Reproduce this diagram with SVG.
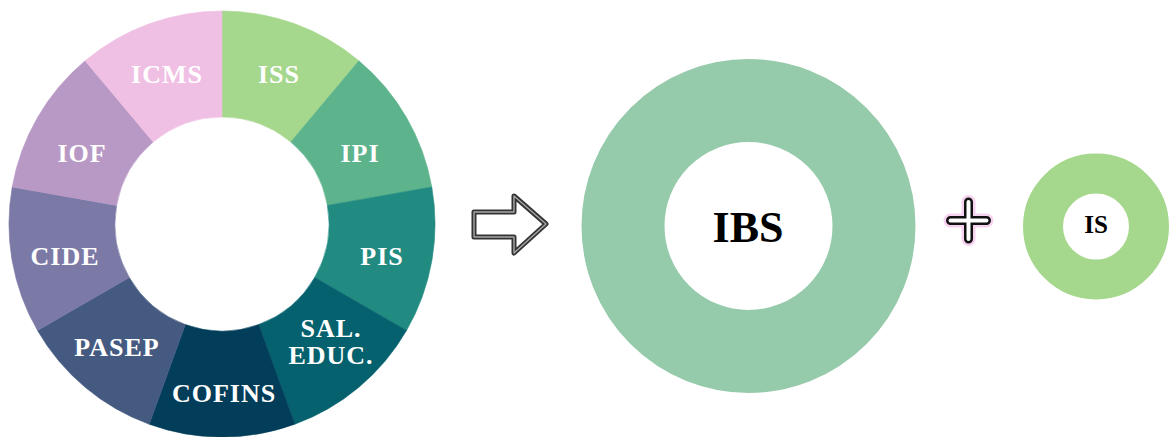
<svg xmlns="http://www.w3.org/2000/svg" width="1172" height="437" viewBox="0 0 1172 437">
<style>
.lbl{font-family:"Liberation Serif","Times New Roman",serif;font-weight:bold;font-size:26px;fill:#ffffff;text-anchor:middle;letter-spacing:1px}
.dark{font-family:"Liberation Serif","Times New Roman",serif;font-weight:bold;fill:#000000;text-anchor:middle}
.seg{stroke-width:0.6}
.pl{fill:none;stroke-linecap:round}
</style>
<rect width="1172" height="437" fill="#ffffff"/>
<g id="donut-tributos">
<g id="seg-iss"><path class="seg" fill="#a5d78c" stroke="#a5d78c" d="M222,11 A213,213 0 0 1 358.9,60.8 L290.8,142 A107,107 0 0 0 222,117 Z"/><text class="lbl" x="279" y="83">ISS</text></g>
<g id="seg-ipi"><path class="seg" fill="#5db38b" stroke="#5db38b" d="M358.9,60.8 A213,213 0 0 1 431.8,187 L327.4,205.4 A107,107 0 0 0 290.8,142 Z"/><text class="lbl" x="360" y="162">IPI</text></g>
<g id="seg-pis"><path class="seg" fill="#228b81" stroke="#228b81" d="M431.8,187 A213,213 0 0 1 406.5,330.5 L314.7,277.5 A107,107 0 0 0 327.4,205.4 Z"/><text class="lbl" x="382" y="265">PIS</text></g>
<g id="seg-sal"><path class="seg" fill="#05616e" stroke="#05616e" d="M406.5,330.5 A213,213 0 0 1 294.8,424.2 L258.6,324.6 A107,107 0 0 0 314.7,277.5 Z"/><text class="lbl" x="331" y="337">SAL.</text><text class="lbl" x="331" y="364">EDUC.</text></g>
<g id="seg-cofins"><path class="seg" fill="#023d59" stroke="#023d59" d="M294.8,424.2 A213,213 0 0 1 149.2,424.2 L185.4,324.6 A107,107 0 0 0 258.6,324.6 Z"/><text class="lbl" x="224" y="402">COFINS</text></g>
<g id="seg-pasep"><path class="seg" fill="#445a80" stroke="#445a80" d="M149.2,424.2 A213,213 0 0 1 37.5,330.5 L129.3,277.5 A107,107 0 0 0 185.4,324.6 Z"/><text class="lbl" x="117" y="356">PASEP</text></g>
<g id="seg-cide"><path class="seg" fill="#7b79a6" stroke="#7b79a6" d="M37.5,330.5 A213,213 0 0 1 12.2,187 L116.6,205.4 A107,107 0 0 0 129.3,277.5 Z"/><text class="lbl" x="65" y="265">CIDE</text></g>
<g id="seg-iof"><path class="seg" fill="#b899c6" stroke="#b899c6" d="M12.2,187 A213,213 0 0 1 85.1,60.8 L153.2,142 A107,107 0 0 0 116.6,205.4 Z"/><text class="lbl" x="82" y="162">IOF</text></g>
<g id="seg-icms"><path class="seg" fill="#f0c0e4" stroke="#f0c0e4" d="M85.1,60.8 A213,213 0 0 1 222,11 L222,117 A107,107 0 0 0 153.2,142 Z"/><text class="lbl" x="167" y="83">ICMS</text></g>
</g>
<g id="connectors">
<g id="arrow">
<path d="M474,212 L514,212 L514,196 L546,224 L514,253 L514,237 L474,237 Z" fill="#ffffff" stroke="#333333" stroke-width="5" stroke-linejoin="round"/>
<path d="M474,212 L514,212 L514,196 L546,224 L514,253 L514,237 L474,237 Z" fill="none" stroke="#a8a8a8" stroke-width="1.4" stroke-linejoin="round"/>
</g>
<g id="plus">
<path class="pl" d="M968.5,202 L968.5,239 M950.5,220.5 L986.5,220.5" stroke="#f6d2f0" stroke-width="14"/>
<path class="pl" d="M968.5,202 L968.5,239 M950.5,220.5 L986.5,220.5" stroke="#111111" stroke-width="9"/>
<path class="pl" d="M968.5,202 L968.5,239 M950.5,220.5 L986.5,220.5" stroke="#ffffff" stroke-width="4"/>
</g>
</g>
<g id="ibs">
<circle cx="748.5" cy="226" r="125.5" fill="none" stroke="#95caab" stroke-width="83"/>
<text class="dark" x="748" y="242" font-size="44">IBS</text>
</g>
<g id="is">
<circle cx="1096" cy="226.5" r="53" fill="none" stroke="#a5d78c" stroke-width="40"/>
<text class="dark" x="1096" y="233" font-size="25">IS</text>
</g>
</svg>
